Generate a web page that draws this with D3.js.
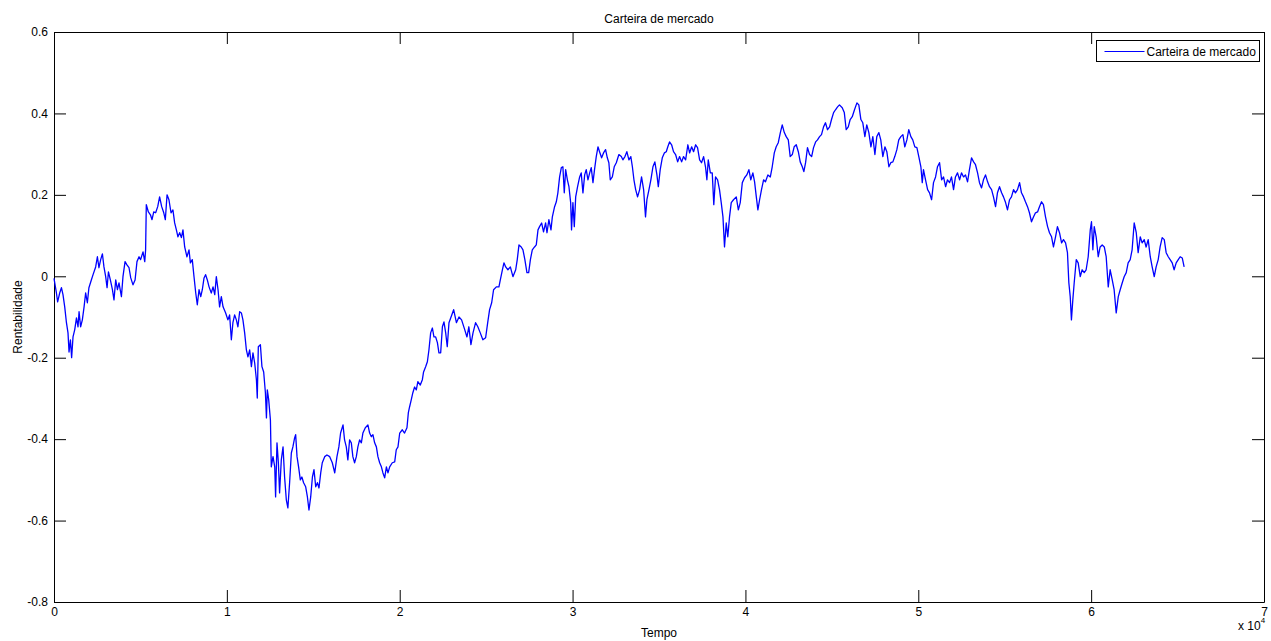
<!DOCTYPE html>
<html>
<head>
<meta charset="utf-8">
<script src="https://cdnjs.cloudflare.com/ajax/libs/d3/7.8.5/d3.min.js"></script>
<style>
  body { margin: 0; background: #fff; }
  svg { font-family: "Liberation Sans", Arial, sans-serif; }
</style>
</head>
<body>
<script>
// Rentabilidade acumulada da carteira de mercado: [tempo (amostra), rentabilidade]
const carteira = [
  [0,-0.005],[140,-0.041],[210,-0.063],[330,-0.041],[430,-0.028],[520,-0.045],[620,-0.075],[720,-0.114],
  [810,-0.139],[870,-0.186],[950,-0.156],[1020,-0.200],[1100,-0.149],[1200,-0.131],[1300,-0.102],[1390,-0.124],
  [1450,-0.087],[1540,-0.124],[1640,-0.107],[1740,-0.075],[1830,-0.041],[1930,-0.065],[2020,-0.028],[2160,-0.009],
  [2260,0.004],[2410,0.023],[2510,0.048],[2600,0.021],[2700,0.041],[2800,0.055],[2890,0.023],[2990,-0.001],
  [3070,-0.028],[3150,0.011],[3260,-0.009],[3380,-0.033],[3470,-0.058],[3570,-0.009],[3670,-0.033],[3760,-0.016],
  [3900,-0.050],[3990,-0.001],[4110,0.036],[4220,0.028],[4340,0.021],[4440,-0.004],[4570,-0.021],[4690,-0.009],
  [4800,0.036],[4920,0.048],[5010,0.041],[5150,0.060],[5250,0.036],[5300,0.065],[5340,0.176],[5460,0.158],
  [5580,0.151],[5670,0.139],[5770,0.158],[5880,0.156],[6000,0.171],[6110,0.195],[6230,0.171],[6350,0.156],
  [6440,0.139],[6540,0.200],[6650,0.188],[6770,0.156],[6880,0.163],[6980,0.131],[7080,0.114],[7170,0.097],
  [7270,0.107],[7370,0.095],[7460,0.114],[7560,0.072],[7690,0.048],[7810,0.065],[7890,0.033],[8000,0.041],
  [8100,-0.001],[8200,-0.041],[8290,-0.070],[8390,-0.033],[8490,-0.050],[8580,-0.033],[8680,-0.004],[8770,0.004],
  [8870,-0.009],[8970,-0.026],[9100,-0.041],[9200,-0.026],[9300,-0.045],[9390,-0.001],[9490,-0.033],[9580,-0.075],
  [9680,-0.050],[9780,-0.075],[9930,-0.090],[10060,-0.107],[10160,-0.095],[10260,-0.156],[10350,-0.114],[10450,-0.095],
  [10550,-0.107],[10640,-0.124],[10740,-0.087],[10840,-0.090],[10930,-0.107],[11030,-0.139],[11130,-0.181],[11220,-0.198],
  [11320,-0.181],[11420,-0.222],[11510,-0.188],[11610,-0.213],[11710,-0.254],[11760,-0.299],[11820,-0.173],[11940,-0.168],
  [12030,-0.222],[12130,-0.235],[12230,-0.286],[12290,-0.348],[12340,-0.279],[12420,-0.303],[12520,-0.353],[12570,-0.468],
  [12670,-0.443],[12770,-0.468],[12820,-0.542],[12900,-0.409],[12980,-0.458],[13050,-0.532],[13150,-0.451],[13250,-0.419],
  [13340,-0.493],[13440,-0.549],[13530,-0.569],[13630,-0.507],[13730,-0.434],[13820,-0.419],[13920,-0.397],[13980,-0.389],
  [14060,-0.443],[14150,-0.468],[14250,-0.500],[14340,-0.493],[14440,-0.507],[14560,-0.517],[14660,-0.542],[14750,-0.574],
  [14850,-0.542],[14950,-0.493],[15040,-0.475],[15140,-0.517],[15240,-0.507],[15330,-0.520],[15430,-0.483],[15520,-0.458],
  [15660,-0.443],[15790,-0.439],[15950,-0.443],[16100,-0.458],[16240,-0.483],[16370,-0.443],[16480,-0.419],[16580,-0.385],
  [16720,-0.365],[16810,-0.402],[16910,-0.419],[17000,-0.451],[17100,-0.402],[17200,-0.409],[17290,-0.443],[17390,-0.458],
  [17490,-0.443],[17580,-0.419],[17680,-0.402],[17780,-0.409],[17870,-0.385],[18010,-0.372],[18160,-0.365],[18260,-0.385],
  [18360,-0.394],[18450,-0.389],[18550,-0.409],[18650,-0.419],[18740,-0.443],[18840,-0.458],[18940,-0.468],[19030,-0.483],
  [19130,-0.495],[19230,-0.468],[19320,-0.483],[19420,-0.468],[19570,-0.458],[19710,-0.456],[19800,-0.426],[19900,-0.419],
  [20000,-0.385],[20150,-0.377],[20280,-0.385],[20420,-0.372],[20500,-0.335],[20570,-0.321],[20670,-0.303],[20760,-0.286],
  [20860,-0.272],[20960,-0.279],[21050,-0.259],[21190,-0.267],[21310,-0.254],[21380,-0.235],[21500,-0.222],[21600,-0.210],
  [21690,-0.181],[21790,-0.139],[21890,-0.127],[21980,-0.149],[22080,-0.149],[22180,-0.163],[22270,-0.188],[22370,-0.188],
  [22470,-0.124],[22560,-0.112],[22660,-0.139],[22750,-0.173],[22850,-0.114],
  [23120,-0.082],[23280,-0.114],[23430,-0.100],[23580,-0.107],[23760,-0.131],[23890,-0.149],[24000,-0.124],[24120,-0.168],
  [24240,-0.139],[24390,-0.114],[24520,-0.124],[24660,-0.139],[24810,-0.156],[24970,-0.151],[25090,-0.114],[25200,-0.082],
  [25320,-0.065],[25430,-0.033],[25590,-0.026],[25740,-0.026],[25820,-0.009],[25940,0.016],[26030,0.033],[26130,0.023],
  [26260,0.016],[26400,0.023],[26550,-0.001],[26710,0.016],[26800,0.041],[26900,0.077],[27030,0.072],[27130,0.065],
  [27240,0.041],[27360,0.009],[27460,0.009],[27560,0.041],[27670,0.065],[27800,0.072],[27900,0.077],[28000,0.114],
  [28090,0.122],[28210,0.131],[28320,0.109],[28440,0.131],[28520,0.107],[28630,0.139],[28750,0.114],[28830,0.146],
  [28960,0.171],[29060,0.183],[29150,0.205],[29250,0.244],[29350,0.267],[29440,0.269],[29520,0.205],[29600,0.262],
  [29700,0.237],[29790,0.220],[29890,0.181],[29940,0.114],[30020,0.181],[30100,0.122],[30180,0.195],[30290,0.220],
  [30410,0.244],[30500,0.254],[30600,0.205],[30700,0.249],[30790,0.262],[30890,0.237],[30990,0.254],[31080,0.267],
  [31180,0.230],[31270,0.262],[31370,0.294],[31470,0.318],[31560,0.306],[31680,0.291],[31790,0.303],[31910,0.311],
  [32010,0.291],[32100,0.279],[32180,0.237],[32300,0.244],[32410,0.269],[32530,0.279],[32680,0.299],[32820,0.294],
  [32910,0.286],[33030,0.294],[33140,0.306],[33260,0.286],[33370,0.294],[33460,0.269],[33550,0.237],[33650,0.213],
  [33760,0.195],[33880,0.213],[33990,0.244],[34110,0.213],[34220,0.146],[34300,0.188],[34420,0.213],[34530,0.237],
  [34650,0.269],[34760,0.281],[34880,0.249],[34960,0.220],[35070,0.262],[35190,0.291],[35310,0.303],[35420,0.306],
  [35510,0.318],[35610,0.330],[35730,0.323],[35840,0.306],[35960,0.299],[36080,0.281],[36190,0.294],[36310,0.281],
  [36420,0.294],[36540,0.286],[36670,0.323],[36770,0.303],[36890,0.318],[37000,0.306],[37120,0.323],[37230,0.316],
  [37350,0.286],[37460,0.279],[37580,0.294],[37690,0.269],[37770,0.237],[37850,0.286],[37970,0.254],[38080,0.254],
  [38170,0.176],[38270,0.244],[38390,0.237],[38500,0.213],[38600,0.181],[38700,0.146],[38790,0.072],[38890,0.131],
  [38980,0.097],[39080,0.146],[39180,0.181],[39310,0.188],[39470,0.195],[39590,0.163],[39700,0.181],[39820,0.230],
  [39950,0.242],[40080,0.249],[40200,0.262],[40310,0.237],[40430,0.254],[40530,0.232],[40630,0.195],[40720,0.163],
  [40820,0.188],[40930,0.213],[41050,0.237],[41160,0.232],[41300,0.249],[41440,0.244],[41550,0.269],[41670,0.303],
  [41780,0.318],[41900,0.328],[42020,0.353],[42130,0.372],[42250,0.353],[42360,0.343],[42480,0.335],[42590,0.294],
  [42710,0.299],[42820,0.318],[42940,0.323],[43060,0.306],[43170,0.281],[43290,0.269],[43380,0.257],[43480,0.279],
  [43590,0.316],[43710,0.299],[43830,0.294],[43940,0.316],[44060,0.330],[44170,0.335],[44290,0.343],[44400,0.348],
  [44520,0.367],[44630,0.377],[44750,0.360],[44870,0.367],[44980,0.385],[45100,0.402],[45210,0.409],[45330,0.416],
  [45440,0.421],
  [45600,0.414],[45720,0.402],[45830,0.360],[45950,0.367],[46060,0.385],[46180,0.392],[46310,0.409],[46450,0.426],
  [46560,0.421],[46680,0.385],[46790,0.377],[46910,0.343],[47020,0.372],[47140,0.353],[47260,0.318],[47370,0.343],
  [47490,0.299],[47600,0.343],[47720,0.353],[47830,0.335],[47950,0.294],[48070,0.318],[48180,0.306],[48300,0.269],
  [48410,0.279],[48530,0.281],[48640,0.294],[48760,0.311],[48870,0.335],[48990,0.343],[49110,0.348],[49220,0.318],
  [49340,0.335],[49450,0.360],[49570,0.343],[49680,0.335],[49800,0.318],[49920,0.316],[50030,0.294],[50150,0.269],
  [50230,0.230],[50300,0.262],[50420,0.237],[50540,0.213],[50650,0.205],[50770,0.188],[50880,0.230],[51000,0.244],
  [51110,0.269],[51230,0.279],[51350,0.237],[51460,0.244],[51580,0.220],[51690,0.237],[51810,0.230],[51920,0.244],
  [52040,0.213],[52150,0.244],[52270,0.254],[52390,0.237],[52500,0.254],[52620,0.244],[52730,0.249],[52850,0.232],
  [52960,0.262],[53080,0.291],[53200,0.281],[53310,0.274],[53430,0.254],[53540,0.230],[53660,0.217],[53770,0.237],
  [53890,0.249],[54010,0.232],[54120,0.220],[54240,0.213],[54350,0.195],[54470,0.171],[54580,0.205],[54700,0.220],
  [54820,0.205],[54930,0.195],[55050,0.181],[55160,0.163],[55280,0.188],[55390,0.195],[55510,0.213],[55620,0.205],
  [55740,0.213],[55860,0.230],[55970,0.205],[56090,0.195],[56200,0.183],[56320,0.171],[56430,0.156],[56550,0.134],
  [56670,0.146],[56780,0.156],[56900,0.158],[57010,0.171],[57130,0.183],[57240,0.176],[57360,0.146],[57480,0.122],
  [57590,0.107],[57710,0.097],[57820,0.072],[57940,0.097],[58050,0.122],[58170,0.107],[58290,0.082],[58400,0.090],
  [58520,0.082],[58630,0.058],[58710,-0.016],[58790,-0.050],[58860,-0.107],[58940,-0.058],[59020,-0.016],[59140,0.041],
  [59250,0.033],[59370,-0.001],[59480,0.016],[59600,0.009],[59710,0.016],[59830,0.048],[59950,0.114],[60020,0.134],
  [60100,0.065],[60180,0.122],[60290,0.097],[60410,0.048],[60520,0.072],[60640,0.077],[60760,0.072],[60870,0.048],
  [60990,-0.026],[61100,0.016],[61220,-0.009],[61330,-0.033],[61450,-0.090],[61570,-0.050],[61680,-0.033],[61800,-0.016],
  [61910,-0.001],[62030,0.009],[62140,0.033],[62260,0.041],[62370,0.065],[62490,0.131],[62610,0.107],[62720,0.058],
  [62840,0.097],[62950,0.082],[63070,0.090],[63180,0.072],[63300,0.090],[63420,0.048],[63530,0.023],[63650,-0.001],
  [63760,0.023],[63880,0.041],[63990,0.072],[64110,0.095],[64230,0.090],[64340,0.058],[64460,0.048],[64570,0.041],
  [64690,0.033],[64800,0.016],[64920,0.033],[65040,0.041],[65150,0.048],[65270,0.045],[65380,0.023]
];

const xTicks = [0, 10000, 20000, 30000, 40000, 50000, 60000, 70000];
const xTickLabels = ["0", "1", "2", "3", "4", "5", "6", "7"];
const yTicks = [-0.8, -0.6, -0.4, -0.2, 0, 0.2, 0.4, 0.6];
const yTickLabels = ["-0.8", "-0.6", "-0.4", "-0.2", "0", "0.2", "0.4", "0.6"];

var margin = { top: 32, right: 7, bottom: 39, left: 54 },
    width = 1271 - margin.left - margin.right,
    height = 641 - margin.top - margin.bottom;

var svgRoot = d3.select("body").append("svg")
    .attr("width", 1271)
    .attr("height", 641);

var svg = svgRoot.append("g")
    .attr("transform", "translate(" + margin.left + "," + margin.top + ")");

var x = d3.scaleLinear().domain([0, 70000]).range([0, width]);
var y = d3.scaleLinear().domain([-0.8, 0.6]).range([height, 0]);

// axes with inward ticks on all four sides (matlab style)
function styleAxis(g) {
    g.attr("font-size", 12).attr("font-family", null).attr("color", "#000");
}

svg.append("g")
    .attr("transform", "translate(0," + height + ")")
    .call(d3.axisBottom(x).tickValues(xTicks)
        .tickFormat(function (d, i) { return xTickLabels[i]; })
        .tickSizeInner(-12).tickSizeOuter(0).tickPadding(5))
    .call(styleAxis);

svg.append("g")
    .call(d3.axisLeft(y).tickValues(yTicks)
        .tickFormat(function (d, i) { return yTickLabels[i]; })
        .tickSizeInner(-12).tickSizeOuter(0).tickPadding(6))
    .call(styleAxis);

svg.append("g")
    .call(d3.axisTop(x).tickValues(xTicks).tickFormat("")
        .tickSizeInner(-12).tickSizeOuter(0))
    .call(styleAxis);

svg.append("g")
    .attr("transform", "translate(" + width + ",0)")
    .call(d3.axisRight(y).tickValues(yTicks).tickFormat("")
        .tickSizeInner(-12).tickSizeOuter(0))
    .call(styleAxis);

// the series
var line = d3.line()
    .x(function (d) { return x(d[0]); })
    .y(function (d) { return y(d[1]); });

svg.append("path")
    .datum(carteira)
    .attr("fill", "none")
    .attr("stroke", "#0000ff")
    .attr("stroke-width", 1.3)
    .attr("stroke-linejoin", "round")
    .attr("d", line);

// title and axis labels
svgRoot.append("text")
    .attr("x", margin.left + width / 2)
    .attr("y", 23)
    .attr("text-anchor", "middle")
    .style("font-size", "12px")
    .text("Carteira de mercado");

svgRoot.append("text")
    .attr("x", margin.left + width / 2)
    .attr("y", 637)
    .attr("text-anchor", "middle")
    .style("font-size", "12px")
    .text("Tempo");

svgRoot.append("text")
    .attr("transform", "translate(22," + (margin.top + height / 2) + ") rotate(-90)")
    .attr("text-anchor", "middle")
    .style("font-size", "12px")
    .text("Rentabilidade");

// x 10^4 exponent label
var expo = svgRoot.append("text")
    .attr("x", 1238)
    .attr("y", 630)
    .style("font-size", "12px")
    .text("x 10");
expo.append("tspan")
    .attr("dy", -7)
    .style("font-size", "8px")
    .text("4");

// legend
var legend = svgRoot.append("g").attr("transform", "translate(1096.5,40.5)");
legend.append("rect")
    .attr("width", 163)
    .attr("height", 21)
    .attr("fill", "#fff")
    .attr("stroke", "#000");
legend.append("line")
    .attr("x1", 8).attr("x2", 48)
    .attr("y1", 11).attr("y2", 11)
    .attr("stroke", "#0000ff");
legend.append("text")
    .attr("x", 50)
    .attr("y", 15)
    .style("font-size", "12px")
    .text("Carteira de mercado");
</script>
</body>
</html>
